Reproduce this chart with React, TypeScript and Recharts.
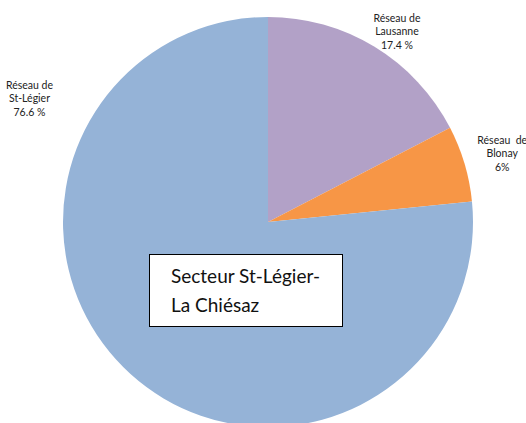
import React from "react";
import { PieChart, Pie, Cell } from "recharts";

const names = ["Réseau de Lausanne", "Réseau de Blonay", "Réseau de St-Légier"];
const labelLines = [
  ["Réseau de", "Lausanne", "17.4 %"],
  ["Réseau\u00A0\u00A0de", "Blonay", "6%"],
  ["Réseau de", "St-Légier", "76.6 %"],
];
const values = [17.4, 6, 76.6];
const colors = ["#B2A1C7", "#F79646", "#95B3D7"];
const boxLines = ["Secteur St-Légier-", "La Chiésaz"];

const data = names.map((name, i) => ({ name, value: values[i] }));

const RAD = Math.PI / 180;

const renderLabel = (props: any) => {
  const { cx, cy, midAngle, index } = props;
  let angle = midAngle - 3.3;
  let r = 227;
  if (index === 2) {
    angle = 153.3;
    r = 267;
  } else if (index === 1) {
    angle = midAngle - 1.1;
    r = 243;
  }
  const x = cx + r * Math.cos(-angle * RAD);
  const y = cy + r * Math.sin(-angle * RAD);
  const lines = labelLines[index];
  return (
    <text
      key={`lbl-${index}`}
      x={x}
      y={y}
      textAnchor="middle"
      fontFamily="Lato, 'Open Sans', sans-serif"
      fontSize={10.5}
      fill="#222"
    >
      {lines.map((l, k) => (
        <tspan key={k} x={x} dy={k === 0 ? -13.5 : 13.5}>
          {l}
        </tspan>
      ))}
    </text>
  );
};

export default function App() {
  return (
    <div style={{ position: "absolute", left: 0, top: 0, width: 526, height: 423 }}>
      <PieChart width={526} height={423} margin={{ top: 0, right: 0, bottom: 0, left: 0 }}>
        <Pie
          data={data}
          dataKey="value"
          nameKey="name"
          cx={268}
          cy={222}
          outerRadius={205}
          startAngle={90}
          endAngle={-270}
          stroke="none"
          label={renderLabel}
          labelLine={false}
          isAnimationActive={false}
        >
          {data.map((d, i) => (
            <Cell key={d.name} fill={colors[i]} />
          ))}
        </Pie>
      </PieChart>
      <div
        style={{
          position: "absolute",
          left: 149,
          top: 254,
          width: 194,
          height: 73,
          background: "#fff",
          border: "1px solid #000",
          fontFamily: "Lato, 'Open Sans', sans-serif",
          fontSize: 19,
          lineHeight: "29px",
          color: "#111",
          boxSizing: "border-box",
          padding: "6px 0 0 21px",
        }}
      >
        {boxLines.map((l) => (
          <div key={l}>{l}</div>
        ))}
      </div>
    </div>
  );
}
